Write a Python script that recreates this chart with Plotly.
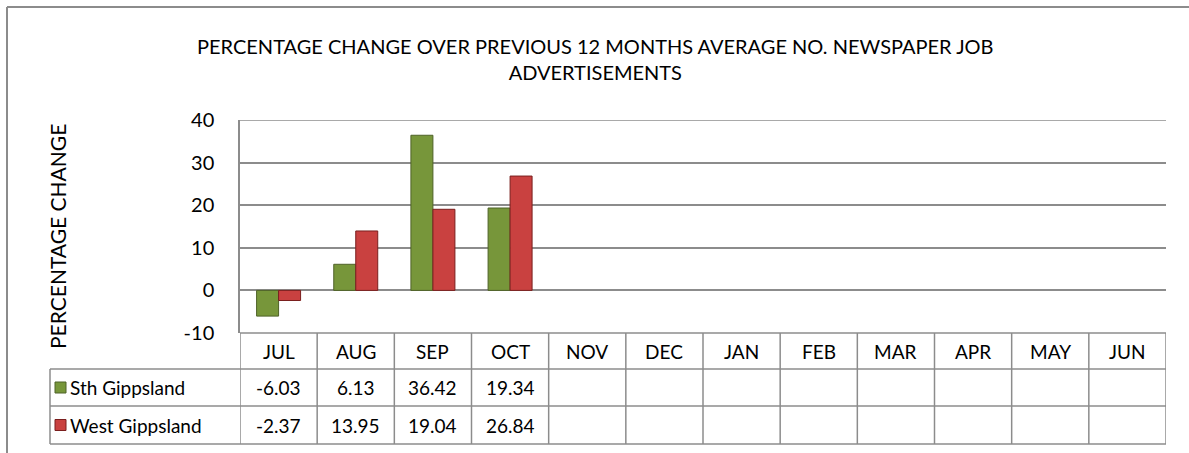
import plotly.graph_objects as go

months = ["JUL", "AUG", "SEP", "OCT", "NOV", "DEC", "JAN", "FEB", "MAR", "APR", "MAY", "JUN"]
sth_gippsland = [-6.03, 6.13, 36.42, 19.34]
west_gippsland = [-2.37, 13.95, 19.04, 26.84]
series_names = ["Sth Gippsland", "West Gippsland"]
series_colors = ["#77963a", "#c94140"]
line_colors = ["#4f6228", "#7a1f1e"]
y_ticks = [-10, 0, 10, 20, 30, 40]
y_tick_text = ["-10", "0", "10", "20", "30", "40"]

W, H = 1189, 453
L, R, T, B = 240, 23, 120, 120
plot_w = W - L - R
plot_h = H - T - B

def px_x(p):
    return (p - L) / plot_w

def px_y(p):
    return (H - B - p) / plot_h

FONT = "Lato"
GRID = "#8c8c8c"

fig = go.Figure()
for name, vals, col, lc in zip(series_names, [sth_gippsland, west_gippsland], series_colors, line_colors):
    fig.add_trace(go.Bar(
        x=months[:len(vals)], y=vals, name=name,
        marker=dict(color=col, line=dict(color=lc, width=1)),
        showlegend=False,
    ))

shapes = []
annotations = []

# outer frame
shapes.append(dict(type="line", xref="paper", yref="paper", x0=px_x(7), x1=px_x(1189), y0=px_y(7), y1=px_y(7),
                   line=dict(color="#8c8c8c", width=2)))
shapes.append(dict(type="line", xref="paper", yref="paper", x0=px_x(7), x1=px_x(7), y0=px_y(7), y1=px_y(453),
                   line=dict(color="#8c8c8c", width=2)))
# top gridline at the axis maximum
shapes.append(dict(type="line", xref="paper", yref="y", x0=0, x1=1, y0=y_ticks[-1], y1=y_ticks[-1],
                   layer="below", line=dict(color=GRID, width=1.5)))

# table geometry (pixel rows)
row_edges = [333, 369, 406, 444]
legend_left = 50
for k in range(len(months) + 1):
    shapes.append(dict(type="line", xref="x", yref="paper", x0=k - 0.5, x1=k - 0.5,
                       y0=px_y(row_edges[0]), y1=px_y(row_edges[-1]), line=dict(color=GRID, width=1.5)))
shapes.append(dict(type="line", xref="paper", yref="paper", x0=px_x(legend_left), x1=px_x(legend_left),
                   y0=px_y(row_edges[1]), y1=px_y(row_edges[-1]), line=dict(color=GRID, width=1.5)))
for i, ry in enumerate(row_edges):
    x0 = px_x(legend_left) if i >= 1 else 0
    shapes.append(dict(type="line", xref="paper", yref="paper", x0=x0, x1=1,
                       y0=px_y(ry), y1=px_y(ry), line=dict(color=GRID, width=1.5)))

FS = 19
for m in months:
    annotations.append(dict(x=m, xref="x", y=px_y((row_edges[0] + row_edges[1]) / 2), yref="paper",
                            xanchor="center", yanchor="middle",
                            text=m, showarrow=False, font=dict(family=FONT, size=FS, color="#000")))
for r, (name, vals, col, lc) in enumerate(zip(series_names, [sth_gippsland, west_gippsland], series_colors, line_colors)):
    cy = (row_edges[r + 1] + row_edges[r + 2]) / 2
    for m, v in zip(months, vals):
        annotations.append(dict(x=m, xref="x", y=px_y(cy), yref="paper", text=f"{v:.2f}",
                                xanchor="center", yanchor="middle",
                                showarrow=False, font=dict(family=FONT, size=FS, color="#000")))
    shapes.append(dict(type="rect", xref="paper", yref="paper", x0=px_x(55), x1=px_x(66),
                       y0=px_y(cy - 5.5), y1=px_y(cy + 5.5), fillcolor=col, line=dict(color=lc, width=1)))
    annotations.append(dict(x=px_x(68), xref="paper", y=px_y(cy), yref="paper", text=name,
                            xanchor="left", yanchor="middle",
                            showarrow=False, font=dict(family=FONT, size=FS, color="#000")))

annotations.append(dict(x=px_x(57), xref="paper", y=px_y(237), yref="paper", text="PERCENTAGE CHANGE",
                        xanchor="center", yanchor="middle",
                        textangle=-90, showarrow=False, font=dict(family=FONT, size=21, color="#000")))
annotations.append(dict(x=px_x(595), xref="paper", y=px_y(59), yref="paper",
                        xanchor="center", yanchor="middle",
                        text="PERCENTAGE CHANGE OVER PREVIOUS 12 MONTHS AVERAGE NO. NEWSPAPER JOB<br>ADVERTISEMENTS",
                        showarrow=False, font=dict(family=FONT, size=20, color="#000")))

fig.update_layout(
    width=W, height=H,
    margin=dict(l=L, r=R, t=T, b=B, pad=0),
    plot_bgcolor="white", paper_bgcolor="white",
    barmode="group", bargap=0.43, bargroupgap=0,
    shapes=shapes, annotations=annotations,
    font=dict(family=FONT, size=FS, color="#000"),
)
fig.update_xaxes(type="category", categoryorder="array", categoryarray=months,
                 range=[-0.5, len(months) - 0.5], showticklabels=False, showgrid=False,
                 zeroline=False, showline=False, fixedrange=True)
fig.update_yaxes(range=[-10, 40], tickvals=y_ticks, ticktext=y_tick_text, showgrid=True, gridcolor=GRID, gridwidth=1.5,
                 zeroline=False, showline=True, linecolor=GRID, linewidth=1.5,
                 ticks="outside", ticklen=20, tickcolor="rgba(0,0,0,0)",
                 tickfont=dict(family=FONT, size=20, color="#000"))

fig.write_html("out.html", config={"displayModeBar": False},
               post_script="document.body.style.margin='0';")
